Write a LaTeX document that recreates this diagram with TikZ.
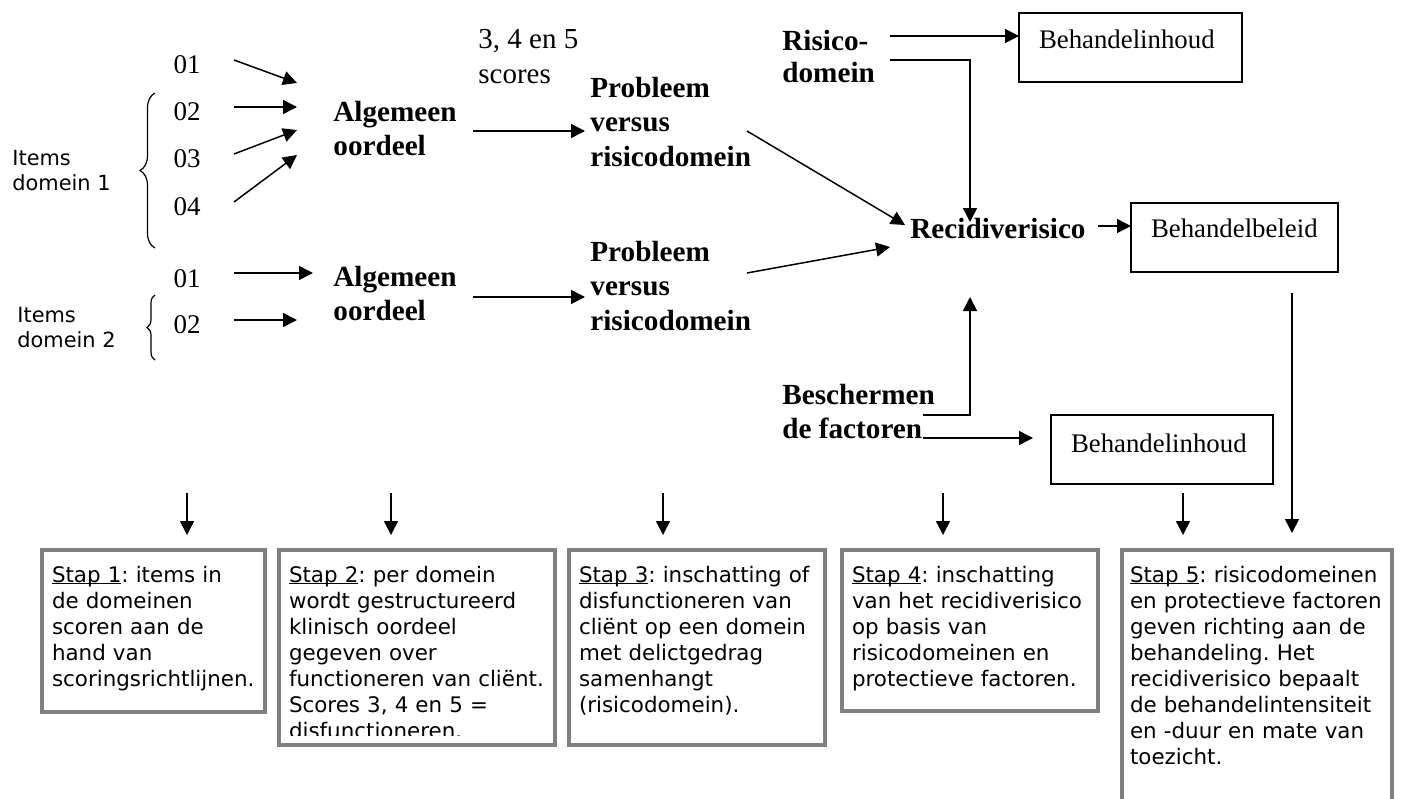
\documentclass[tikz,border=0pt]{standalone}
\usepackage{fontspec}
\setmainfont{Liberation Serif}
\newfontfamily\verd{DejaVu Sans}
\usetikzlibrary{arrows.meta,decorations.pathreplacing}
\definecolor{stapgray}{RGB}{128,128,128}
\newcommand\stapu[1]{\setbox0=\hbox{#1}\rlap{\rule[-1.1pt]{\wd0}{0.5pt}}\box0}
\newcommand\stapfont{\verd\fontsize{10.7pt}{13pt}\selectfont\frenchspacing\hyphenpenalty=10000\relax\exhyphenpenalty=10000\relax}
\tikzset{
  arr/.style={line width=0.75pt, -{Triangle[length=7pt,width=7pt]}},
  bl/.style={font=\fontsize{14.6pt}{16.8pt}\selectfont\bfseries, align=left, anchor=base west, inner sep=0pt},
  rg/.style={font=\fontsize{14.5pt}{17.5pt}\selectfont, align=left, anchor=base west, inner sep=0pt},
  num/.style={font=\fontsize{13.5pt}{16pt}\selectfont, anchor=base, inner sep=0pt},
  lbl/.style={font=\verd\fontsize{10.45pt}{12.5pt}\selectfont, align=left, anchor=base west, inner sep=0pt},
  brc/.style={line width=0.6pt, decorate},
  behbox/.style={draw, line width=1pt, anchor=north west, outer sep=0pt, inner xsep=10pt, inner ysep=0pt, align=left, font=\fontsize{13.4pt}{16pt}\selectfont},
  stapbox/.style={draw=stapgray, line width=2pt, anchor=north west, outer sep=0pt, inner xsep=5pt, inner ysep=0pt, text height=16pt, align=left,
    font=\stapfont},
}
\begin{document}
\begin{tikzpicture}[x=0.5pt,y=-0.5pt]
\useasboundingbox (0,0) rectangle (1402,798);

% left labels and braces
\node[lbl] (itm1) at (12,190) {Items\\domein 1};
\node[lbl] (itm2) at (17,347) {Items\\domein 2};
\draw[brc, decoration={brace, amplitude=7.5pt}] (155,248) -- (155,93);
\draw[brc, decoration={brace, amplitude=4pt}] (155,360) -- (155,295);

% item numbers
\node[num] (d1a) at (187,73) {01};
\node[num] (d1b) at (187,120) {02};
\node[num] (d1c) at (187,167) {03};
\node[num] (d1d) at (187,215) {04};
\node[num] (d2a) at (187,287) {01};
\node[num] (d2b) at (187,333) {02};

% main labels
\node[bl] (alg1) at (333,155) {Algemeen\\oordeel};
\node[bl] (alg2) at (333,320) {Algemeen\\oordeel};
\node[rg] (sc) at (478,83) {3, 4 en 5\\scores};
\node[bl, font=\fontsize{14.6pt}{17.2pt}\selectfont\bfseries] (prob1) at (590,166) {Probleem\\versus\\risicodomein};
\node[bl, font=\fontsize{14.6pt}{17.2pt}\selectfont\bfseries] (prob2) at (590,330) {Probleem\\versus\\risicodomein};
\node[bl, font=\fontsize{14.6pt}{16pt}\selectfont\bfseries] (risk) at (782,82) {Risico-\\domein};
\node[bl] (recid) at (910,238) {Recidiverisico};
\node[bl] (besch) at (782,438) {Beschermen\\de factoren};

% boxes
\node[behbox, text width=91.5pt, text height=17.5pt, text depth=17pt] (beh1) at (1019,13) {Behandelinhoud};
\node[behbox, text width=83.5pt, text height=17pt, text depth=17.5pt] (behb) at (1131,203) {Behandelbeleid};
\node[behbox, text width=91pt, text height=18.5pt, text depth=16pt] (beh2) at (1051,415) {Behandelinhoud};

% coordinates
\coordinate (i1) at (234,60);  \coordinate (t1) at (297,83);
\coordinate (i2) at (234,107); \coordinate (t2) at (297,107);
\coordinate (i3) at (234,154); \coordinate (t3) at (297,130);
\coordinate (i4) at (234,202); \coordinate (t4) at (297,155);
\coordinate (j1) at (234,273); \coordinate (u1) at (313,273);
\coordinate (j2) at (234,320); \coordinate (u2) at (297,320);
\coordinate (a1s) at (473,131); \coordinate (a1e) at (585,131);
\coordinate (a2s) at (473,297); \coordinate (a2e) at (585,297);
\coordinate (p1s) at (747,131); \coordinate (p1e) at (905,225);
\coordinate (p2s) at (747,273); \coordinate (p2e) at (890,247);
\coordinate (rk1) at (890,36);
\coordinate (rk2) at (890,60); \coordinate (rtop) at (970,222);
\coordinate (rc) at (1098,226);
\coordinate (bs1) at (923,415); \coordinate (rbot) at (970,297);
\coordinate (bs2) at (923,438); \coordinate (bs2e) at (1033,438);
\coordinate (bbs) at (1292,293); \coordinate (bbe) at (1292,533);

% arrows top part
\draw[arr] (i1) -- (t1);
\draw[arr] (i2) -- (t2);
\draw[arr] (i3) -- (t3);
\draw[arr] (i4) -- (t4);
\draw[arr] (j1) -- (u1);
\draw[arr] (j2) -- (u2);
\draw[arr] (a1s) -- (a1e);
\draw[arr] (a2s) -- (a2e);
\draw[arr] (p1s) -- (p1e);
\draw[arr] (p2s) -- (p2e);
\draw[arr] (rk1) -- (rk1 -| beh1.west);
\draw[arr] (rk2) -| (rtop);
\draw[arr] (rc) -- (rc -| behb.west);
\draw[arr] (bs1) -| (rbot);
\draw[arr] (bs2) -- (bs2e);
\draw[arr] (bbs) -- (bbe);

% step boxes
\node[stapbox, text width=101.5pt, text depth=65pt] (st1) at (42,550)
  {\stapu{Stap 1}: items in\\de domeinen\\scoren aan de\\hand van\\scoringsrichtlijnen.};
\begin{scope}
\clip (270,540) rectangle (566,735);
\node[stapbox, text width=128pt, text depth=81.5pt] (st2) at (279,550)
  {\stapu{Stap 2}: per domein\\wordt gestructureerd\\klinisch oordeel\\gegeven over\\functioneren van cliënt.\\Scores 3, 4 en 5 =\\disfunctioneren.};
\end{scope}
\draw[draw=stapgray, line width=2pt] (st2.south west |- 0,728) -- (st2.south west) -- (st2.south east) -- (st2.south east |- 0,728);
\node[stapbox, text width=118pt, text depth=81.5pt] (st3) at (569,550)
  {\stapu{Stap 3}: inschatting of\\disfunctioneren van\\cliënt op een domein\\met delictgedrag\\samenhangt\\(risicodomein).};
\node[stapbox, text width=118pt, text depth=64.5pt] (st4) at (842,550)
  {\stapu{Stap 4}: inschatting\\van het recidiverisico\\op basis van\\risicodomeinen en\\protectieve factoren.};
\node[stapbox, inner xsep=4pt, text width=127pt, text depth=119pt] (st5) at (1122,550)
  {\stapu{Stap 5}: risicodomeinen\\en protectieve factoren\\geven richting aan de\\behandeling. Het\\recidiverisico bepaalt\\de behandelintensiteit\\en -duur en mate van\\toezicht.};

% step arrows
\coordinate (s1) at (187,493);
\coordinate (s2) at (391,493);
\coordinate (s3) at (663,493);
\coordinate (s4) at (943,493);
\coordinate (s5) at (1183,493);
\draw[arr, shorten >=7.5pt] (s1) -- (s1 |- st1.north);
\draw[arr, shorten >=7.5pt] (s2) -- (s2 |- st2.north);
\draw[arr, shorten >=7.5pt] (s3) -- (s3 |- st3.north);
\draw[arr, shorten >=7.5pt] (s4) -- (s4 |- st4.north);
\draw[arr, shorten >=7.5pt] (s5) -- (s5 |- st5.north);
\end{tikzpicture}
\end{document}
